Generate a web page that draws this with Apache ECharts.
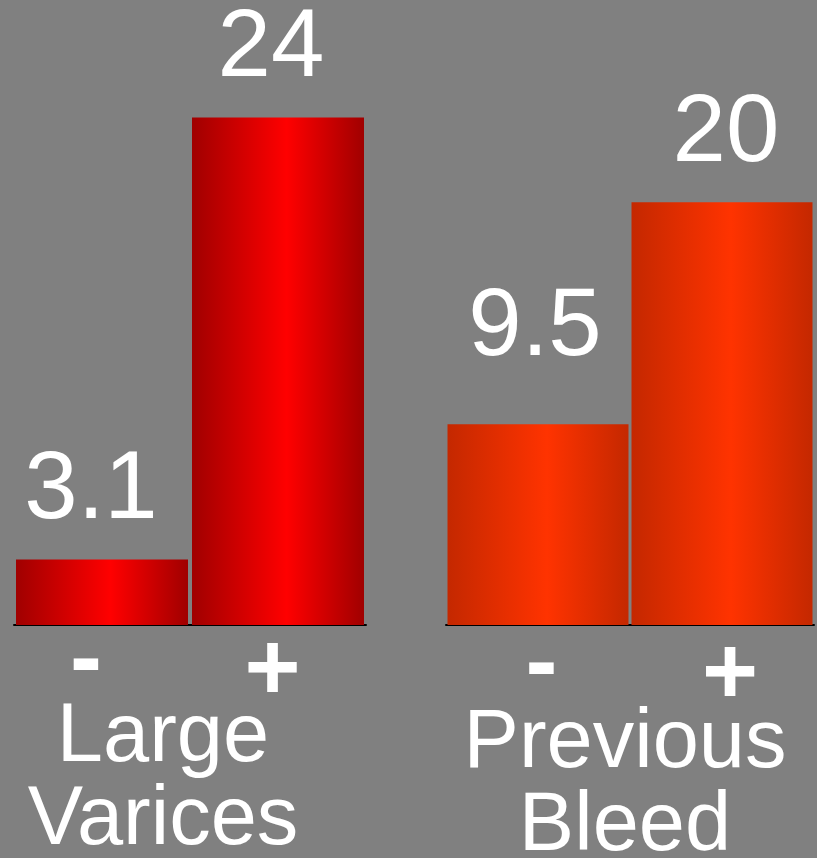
<!DOCTYPE html>
<html>
<head>
<meta charset="utf-8">
<title>Large Varices / Previous Bleed</title>
<script src="https://cdn.jsdelivr.net/npm/echarts@6/dist/echarts.min.js"></script>
<style>
  html, body { margin: 0; padding: 0; background: #808080; }
  #chart { width: 817px; height: 858px; }
</style>
</head>
<body>
<div id="chart"></div>
<script>
// Category ticks under each pair of bars
const signs = ['-', '+'];
// Group names drawn under the axes
const groupNames = ['Large\nVarices', 'Previous\nBleed'];
// Values per group: absent (-) vs present (+)
const largeVarices = [3.1, 24];
const previousBleed = [9.5, 20];

const FONT = '"Liberation Sans", Arial, sans-serif';
const Y_MAX = 28;
const GRID_TOP = 33;
const GRID_HEIGHT = 592;

function barGradient(edge, mid) {
  return new echarts.graphic.LinearGradient(0, 0, 1, 0, [
    { offset: 0, color: edge },
    { offset: 0.55, color: mid },
    { offset: 1, color: edge }
  ]);
}

const redFill = barGradient('#a00000', '#ff0000');
const orangeFill = barGradient('#c42800', '#ff3300');

function valueLabel(extra) {
  return Object.assign({
    show: true,
    position: 'top',
    distance: 20,
    color: '#ffffff',
    fontSize: 96,
    lineHeight: 96,
    fontFamily: FONT
  }, extra || {});
}

// Sign labels under the axis; each sign gets its own box so it can be nudged
function signStyle(lineHeight, padding) {
  return {
    color: '#ffffff',
    fontSize: 96,
    fontWeight: 'bold',
    fontFamily: FONT,
    lineHeight: lineHeight,
    padding: padding
  };
}

function xAxisFor(gridIndex, minusStyle, plusStyle) {
  return {
    type: 'category',
    gridIndex: gridIndex,
    data: signs,
    axisLine: { show: true, lineStyle: { color: '#000000', width: 2 } },
    axisTick: { show: false },
    axisLabel: {
      margin: 4,
      formatter: function (v) { return v === '-' ? '{m|-}' : '{p|+}'; },
      rich: { m: minusStyle, p: plusStyle }
    }
  };
}

function yAxisFor(gridIndex) {
  return {
    type: 'value',
    gridIndex: gridIndex,
    min: 0,
    max: Y_MAX,
    show: false,
    splitLine: { show: false }
  };
}

const chart = echarts.init(document.getElementById('chart'), null, { renderer: 'canvas' });

chart.setOption({
  backgroundColor: '#808080',
  animation: false,
  grid: [
    { left: 14, width: 352, top: GRID_TOP, height: GRID_HEIGHT },
    { left: 446, width: 368, top: GRID_TOP, height: GRID_HEIGHT }
  ],
  xAxis: [
    xAxisFor(0, signStyle(68, [0, 32, 0, 0]), signStyle(90, [0, 11, 0, 0])),
    xAxisFor(1, signStyle(76, [0, 0, 0, 7]), signStyle(98, [0, 0, 0, 16]))
  ],
  yAxis: [yAxisFor(0), yAxisFor(1)],
  series: [
    {
      type: 'bar',
      xAxisIndex: 0,
      yAxisIndex: 0,
      barWidth: 172,
      itemStyle: { color: redFill },
      data: [
        { value: largeVarices[0], label: valueLabel({ offset: [-11, 0] }) },
        { value: largeVarices[1], label: valueLabel({ offset: [-7, 0] }) }
      ]
    },
    {
      type: 'bar',
      xAxisIndex: 1,
      yAxisIndex: 1,
      barWidth: 181,
      itemStyle: { color: orangeFill },
      data: [
        { value: previousBleed[0], label: valueLabel({ offset: [-3, -28] }) },
        { value: previousBleed[1], label: valueLabel({ offset: [4, 0] }) }
      ]
    }
  ],
  graphic: [
    {
      type: 'text',
      x: 163,
      y: 697,
      style: {
        text: groupNames[0],
        fill: '#ffffff',
        fontSize: 83,
        fontFamily: FONT,
        lineHeight: 83,
        align: 'center',
        verticalAlign: 'top'
      }
    },
    {
      type: 'text',
      x: 625,
      y: 703,
      style: {
        text: groupNames[1],
        fill: '#ffffff',
        fontSize: 83,
        fontFamily: FONT,
        lineHeight: 83,
        align: 'center',
        verticalAlign: 'top'
      }
    }
  ]
});
</script>
</body>
</html>
